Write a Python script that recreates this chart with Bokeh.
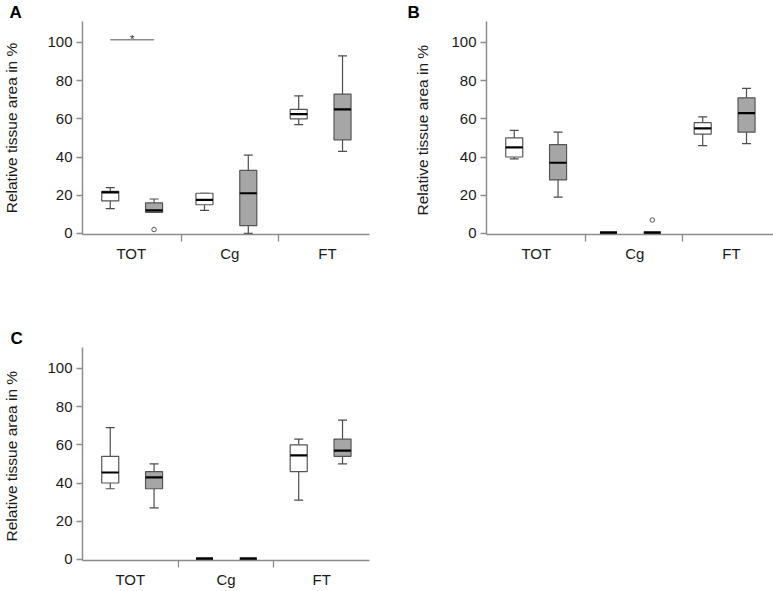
from bokeh.plotting import figure
from bokeh.layouts import column, row
from bokeh.models import Range1d, FixedTicker, CustomJSTickFormatter
from bokeh.embed import file_html
from bokeh.resources import INLINE

groups = ["TOT", "Cg", "FT"]

# Panel A  (white = first series, grey = second series)
a_white_min = [13, 12, 57]
a_white_q1 = [17, 15, 60]
a_white_med = [21.5, 17.5, 62.5]
a_white_q3 = [22, 21, 65]
a_white_max = [24, 21, 72]
a_grey_min = [11, 0, 43]
a_grey_q1 = [11, 4, 49]
a_grey_med = [12, 21, 65]
a_grey_q3 = [16, 33, 73]
a_grey_max = [18, 41, 93]
a_grey_outliers = [("TOT", 2)]

# Panel B
b_white_min = [39, 0, 46]
b_white_q1 = [40, 0, 52]
b_white_med = [45, 0, 55]
b_white_q3 = [50, 0, 58]
b_white_max = [54, 0, 61]
b_grey_min = [19, 0, 47]
b_grey_q1 = [28, 0, 53]
b_grey_med = [37, 0, 63]
b_grey_q3 = [46.5, 0, 71]
b_grey_max = [53, 0, 76]
b_grey_outliers = [("Cg", 7)]

# Panel C
c_white_min = [37, 0, 31]
c_white_q1 = [40, 0, 46]
c_white_med = [45.5, 0, 54.5]
c_white_q3 = [54, 0, 60]
c_white_max = [69, 0, 63]
c_grey_min = [27, 0, 50]
c_grey_q1 = [37, 0, 54]
c_grey_med = [43, 0, 57]
c_grey_q3 = [46, 0, 63]
c_grey_max = [50, 0, 73]

y_ticks = [0, 20, 40, 60, 80, 100]

FONT = "Liberation Sans"
AXIS_COL = "#8c8c8c"
EDGE = "#555555"
GREY = "#a6a6a6"
BOX_W = 0.178
CAP = 0.047


def positions():
    white = [0.29 + 0.985 * g for g in range(len(groups))]
    grey = [w + 0.458 for w in white]
    return white, grey


def draw_series(p, xs, mn, q1, med, q3, mx, fill):
    x0 = [x - BOX_W / 2 for x in xs]
    x1 = [x + BOX_W / 2 for x in xs]
    c0 = [x - CAP for x in xs]
    c1 = [x + CAP for x in xs]
    p.segment(x0=xs, y0=q3, x1=xs, y1=mx, line_color="#4d4d4d", line_width=1.2)
    p.segment(x0=xs, y0=mn, x1=xs, y1=q1, line_color="#4d4d4d", line_width=1.2)
    p.segment(x0=c0, y0=mx, x1=c1, y1=mx, line_color="#4d4d4d", line_width=1.2)
    p.segment(x0=c0, y0=mn, x1=c1, y1=mn, line_color="#4d4d4d", line_width=1.2)
    p.quad(left=x0, right=x1, bottom=q1, top=q3, fill_color=fill,
           line_color=EDGE, line_width=1.2)
    widths = [4.2 if m == 0 else 2.2 for m in med]
    p.segment(x0=x0, y0=med, x1=x1, y1=med, line_color="black", line_width=widths)


def make_panel(letter, ylabel, data_w, data_g, outliers, seps, label_pos,
               left, right, top, bottom, label_standoff, x_label_standoff):
    p = figure(frame_width=287, frame_height=213,
               min_border_left=left, min_border_right=right,
               min_border_top=top, min_border_bottom=bottom,
               x_range=Range1d(0, 3), y_range=Range1d(-0.6, 111),
               output_backend="svg", toolbar_location=None,
               background_fill_color="white", border_fill_color="white",
               title=letter)
    p.outline_line_color = None
    p.grid.visible = False

    p.title.text_font = FONT
    p.title.text_font_size = "17px"
    p.title.text_font_style = "bold"
    p.title.text_color = "black"
    p.title.align = "left"
    p.title.offset = -(left - 4)
    p.title.standoff = 0

    white, grey = positions()
    draw_series(p, white, *data_w, fill="white")
    draw_series(p, grey, *data_g, fill=GREY)

    if outliers:
        ox = [grey[groups.index(g)] for g, _ in outliers]
        oy = [v for _, v in outliers]
        p.scatter(x=ox, y=oy, marker="circle", size=4.5, fill_color="white",
                  line_color="#555555", line_width=1)

    ya = p.yaxis[0]
    ya.ticker = FixedTicker(ticks=y_ticks, minor_ticks=[])
    ya.axis_line_color = AXIS_COL
    ya.axis_line_width = 1.5
    ya.major_tick_line_color = AXIS_COL
    ya.major_tick_line_width = 1.3
    ya.major_tick_out = 6
    ya.major_tick_in = 0
    ya.major_label_standoff = 4
    ya.major_label_text_font = FONT
    ya.major_label_text_font_size = "15px"
    ya.major_label_text_color = "#1a1a1a"
    ya.axis_label = ylabel
    ya.axis_label_text_font = FONT
    ya.axis_label_text_font_size = "15.5px"
    ya.axis_label_text_font_style = "normal"
    ya.axis_label_text_color = "#1a1a1a"
    ya.axis_label_standoff = label_standoff

    xa = p.xaxis[0]
    xa.ticker = FixedTicker(ticks=label_pos, minor_ticks=seps)
    xa.formatter = CustomJSTickFormatter(args=dict(names=groups),
                                         code="return names[index] || '';")
    xa.axis_line_color = AXIS_COL
    xa.axis_line_width = 1.5
    xa.major_tick_line_color = None
    xa.major_tick_out = 0
    xa.major_tick_in = 0
    xa.minor_tick_line_color = AXIS_COL
    xa.minor_tick_line_width = 1.3
    xa.minor_tick_out = 7
    xa.minor_tick_in = 0
    xa.major_label_standoff = x_label_standoff
    xa.major_label_text_font = FONT
    xa.major_label_text_font_size = "15px"
    xa.major_label_text_color = "#1a1a1a"
    return p


white_pos, grey_pos = positions()

pA = make_panel("A", "Relative tissue area in %",
                (a_white_min, a_white_q1, a_white_med, a_white_q3, a_white_max),
                (a_grey_min, a_grey_q1, a_grey_med, a_grey_q3, a_grey_max),
                a_grey_outliers, [1.035, 2.053], [0.51, 1.54, 2.56],
                77, 34, 20, 75, 24, 3)

sig_y = 101.4
pA.segment(x0=[white_pos[0]], y0=[sig_y], x1=[grey_pos[0]], y1=[sig_y],
           line_color="#8c8c8c", line_width=1.5)
pA.text(x=[(white_pos[0] + grey_pos[0]) / 2], y=[sig_y + 0.3], text=["*"],
        text_font_size="11px", text_align="center", text_baseline="alphabetic",
        text_color="#222222")

pB = make_panel("B", "Relative tissue area  in %",
                (b_white_min, b_white_q1, b_white_med, b_white_q3, b_white_max),
                (b_grey_min, b_grey_q1, b_grey_med, b_grey_q3, b_grey_max),
                b_grey_outliers, [1.035, 2.053], [0.52, 1.55, 2.56],
                83, 5, 20, 75, 17, 3)

pC = make_panel("C", "Relative tissue area  in %",
                (c_white_min, c_white_q1, c_white_med, c_white_q3, c_white_max),
                (c_grey_min, c_grey_q1, c_grey_med, c_grey_q3, c_grey_max),
                [], [1.0, 2.0], [0.5, 1.5, 2.5],
                76, 10, 38, 32, 24, 3)

layout = column(row(pA, pB, spacing=0), pC, spacing=0)

with open("out.html", "w") as f:
    f.write(file_html(layout, INLINE))
